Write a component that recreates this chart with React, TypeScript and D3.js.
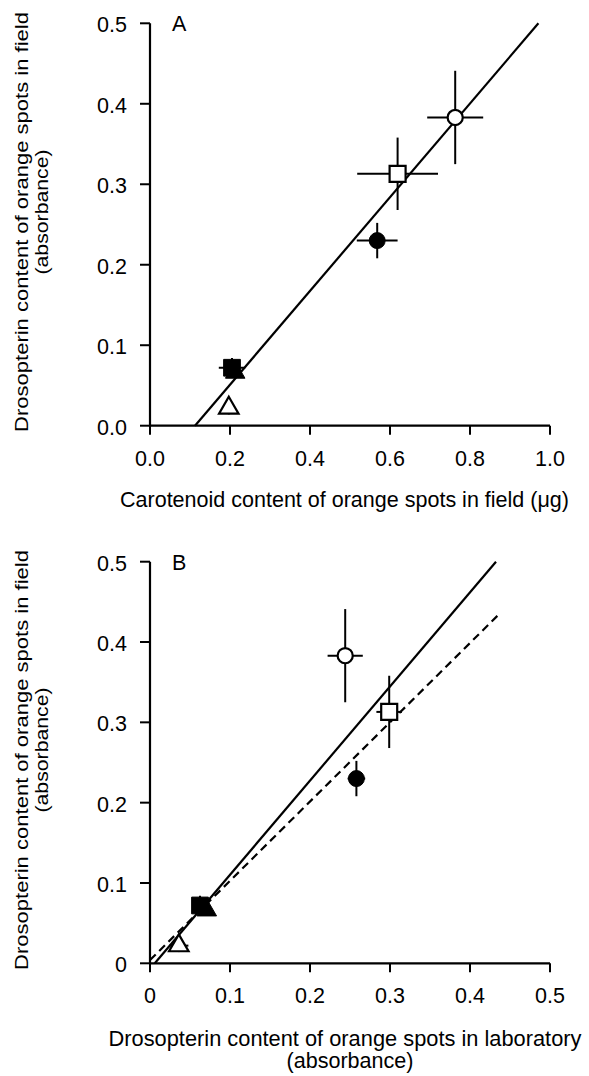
import * as d3 from "d3";

// populations, in drawing order (filled square before filled triangle so the triangle sits on top)
const markers = ["openCircle", "openSquare", "filledCircle", "filledSquare", "filledTriangle", "openTriangle"];

// panel A x: carotenoid in field (ug)
const fieldCarotenoid = [0.763, 0.619, 0.568, 0.205, 0.213, 0.197];
const fieldCarotenoidErr = [0.07, 0.101, 0.051, 0.033, 0.01, 0.012];
// y in both panels: drosopterin in field (absorbance)
const fieldDrosopterin = [0.383, 0.313, 0.23, 0.072, 0.066, 0.022];
const fieldDrosopterinErr = [0.058, 0.045, 0.022, 0.012, 0.006, 0.008];
// panel B x: drosopterin in laboratory (absorbance)
const labDrosopterin = [0.244, 0.299, 0.258, 0.0625, 0.071, 0.036];
const labDrosopterinErr = [0.022, 0.016, 0.011, 0.008, 0.004, 0.012];

// fitted lines
const fitAX = [0.1125, 0.971];
const fitAY = [0, 0.5];
const fitBSolidX = [0.006, 0.4325];
const fitBSolidY = [0, 0.5];
const fitBDashX = [0, 0.4367];
const fitBDashY = [0.004, 0.435];

const ticksA_x = [0, 0.2, 0.4, 0.6, 0.8, 1.0];
const ticksA_xLabels = ["0.0", "0.2", "0.4", "0.6", "0.8", "1.0"];
const ticksA_y = [0, 0.1, 0.2, 0.3, 0.4, 0.5];
const ticksA_yLabels = ["0.0", "0.1", "0.2", "0.3", "0.4", "0.5"];
const ticksB = [0, 0.1, 0.2, 0.3, 0.4, 0.5];
const ticksB_labels = ["0", "0.1", "0.2", "0.3", "0.4", "0.5"];

const FONT = "'Liberation Sans', Arial, Helvetica, sans-serif";
const FS = 21.5;

function Marker({ kind, x, y }: { kind: string; x: number; y: number }) {
  const open = kind.startsWith("open");
  let type: any = d3.symbolCircle;
  let size = 180;
  if (kind.endsWith("Square")) {
    type = d3.symbolSquare;
    size = kind === "filledSquare" ? 280 : 256;
  } else if (kind.endsWith("Triangle")) {
    type = d3.symbolTriangle;
    size = 165;
  } else if (kind === "filledCircle") {
    size = 200;
  }
  const path = d3.symbol().type(type).size(size)() as string;
  return (
    <path
      d={path}
      transform={`translate(${x},${y})`}
      fill={open ? "#fff" : "#000"}
      stroke="#000"
      strokeWidth={open ? 2.2 : 1}
    />
  );
}

function Panel({
  xs,
  xErr,
  ys,
  yErr,
  x,
  y,
  xTicks,
  xLabels,
  yTicks,
  yLabels,
  letter,
}: any) {
  const [x0, x1] = x.range();
  const [y0, y1] = y.range();
  return (
    <g>
      {/* axes */}
      <line x1={x0} x2={x0} y1={y0 + 1} y2={y1} stroke="#000" strokeWidth={2.2} />
      <line x1={x0 - 1} x2={x1} y1={y0} y2={y0} stroke="#000" strokeWidth={2.2} />
      {yTicks.map((t: number, i: number) => (
        <g key={"yt" + i}>
          <line x1={x0 - 10} x2={x0} y1={y(t)} y2={y(t)} stroke="#000" strokeWidth={2} />
          <text x={x0 - 23} y={y(t) + 9} textAnchor="end" fontSize={FS} fontFamily={FONT}>
            {yLabels[i]}
          </text>
        </g>
      ))}
      {xTicks.map((t: number, i: number) => (
        <g key={"xt" + i}>
          <line x1={x(t)} x2={x(t)} y1={y0} y2={y0 + 9} stroke="#000" strokeWidth={2} />
          <text x={x(t)} y={y0 + 40} textAnchor="middle" fontSize={FS} fontFamily={FONT}>
            {xLabels[i]}
          </text>
        </g>
      ))}
      <text x={172} y={y1 + 8} fontSize={FS} fontFamily={FONT}>
        {letter}
      </text>
      {/* error bars */}
      {xs.map((v: number, i: number) => (
        <g key={"e" + i} stroke="#000" strokeWidth={2}>
          <line x1={x(v - xErr[i])} x2={x(v + xErr[i])} y1={y(ys[i])} y2={y(ys[i])} />
          <line x1={x(v)} x2={x(v)} y1={y(ys[i] - yErr[i])} y2={y(ys[i] + yErr[i])} />
        </g>
      ))}
      {xs.map((v: number, i: number) => (
        <Marker key={"m" + i} kind={markers[i]} x={x(v)} y={y(ys[i])} />
      ))}
    </g>
  );
}

export default function App() {
  const xA = d3.scaleLinear().domain([0, 1]).range([150, 550]);
  const yA = d3.scaleLinear().domain([0, 0.5]).range([425.7, 23.3]);
  const xB = d3.scaleLinear().domain([0, 0.5]).range([150, 550]);
  const yB = d3.scaleLinear().domain([0, 0.5]).range([963.3, 561.7]);

  const lineA = d3.line<number>().x((d) => xA(d)).y((_, i) => yA(fitAY[i]));
  const lineBS = d3.line<number>().x((d) => xB(d)).y((_, i) => yB(fitBSolidY[i]));
  const lineBD = d3.line<number>().x((d) => xB(d)).y((_, i) => yB(fitBDashY[i]));

  return (
    <svg
      width={589}
      height={1076}
      style={{ position: "absolute", left: 0, top: 0, background: "#fff" }}
    >
      <rect width={589} height={1076} fill="#fff" />
      <path d={lineA(fitAX) as string} fill="none" stroke="#000" strokeWidth={2.2} />
      <path d={lineBS(fitBSolidX) as string} fill="none" stroke="#000" strokeWidth={2.2} />
      <path
        d={lineBD(fitBDashX) as string}
        fill="none"
        stroke="#000"
        strokeWidth={2.2}
        strokeDasharray="8,5"
      />
      <Panel
        xs={fieldCarotenoid}
        xErr={fieldCarotenoidErr}
        ys={fieldDrosopterin}
        yErr={fieldDrosopterinErr}
        x={xA}
        y={yA}
        xTicks={ticksA_x}
        xLabels={ticksA_xLabels}
        yTicks={ticksA_y}
        yLabels={ticksA_yLabels}
        letter="A"
      />
      <Panel
        xs={labDrosopterin}
        xErr={labDrosopterinErr}
        ys={fieldDrosopterin}
        yErr={fieldDrosopterinErr}
        x={xB}
        y={yB}
        xTicks={ticksB}
        xLabels={ticksB_labels}
        yTicks={ticksB}
        yLabels={ticksB_labels}
        letter="B"
      />
      {/* axis titles */}
      <text x={344.5} y={507} textAnchor="middle" fontSize={FS} fontFamily={FONT} textLength={449} lengthAdjust="spacingAndGlyphs">
        Carotenoid content of orange spots in field (μg)
      </text>
      <text x={345} y={1046} textAnchor="middle" fontSize={FS} fontFamily={FONT} textLength={473} lengthAdjust="spacingAndGlyphs">
        Drosopterin content of orange spots in laboratory
      </text>
      <text x={350} y={1068} textAnchor="middle" fontSize={FS} fontFamily={FONT} textLength={127} lengthAdjust="spacingAndGlyphs">
        (absorbance)
      </text>
      {[0, 538].map((dy) => (
        <g key={dy} fontSize={19} fontFamily={FONT}>
          <text transform={`translate(28,${222 + dy}) rotate(-90)`} textAnchor="middle" textLength={420} lengthAdjust="spacingAndGlyphs">
            Drosopterin content of orange spots in field
          </text>
          <text transform={`translate(48,${212 + dy}) rotate(-90)`} textAnchor="middle" textLength={125} lengthAdjust="spacingAndGlyphs">
            (absorbance)
          </text>
        </g>
      ))}
    </svg>
  );
}
